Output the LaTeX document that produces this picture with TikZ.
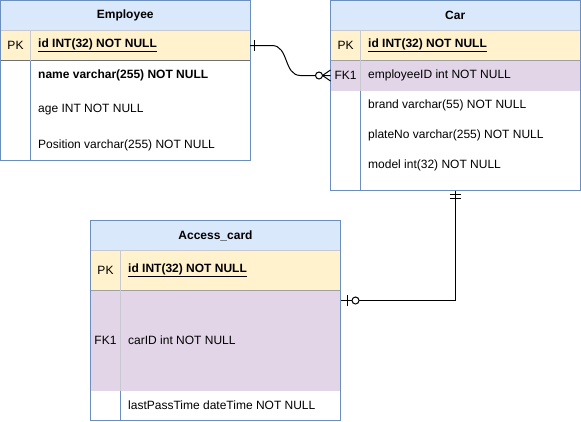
\documentclass[tikz,border=0pt]{standalone}
\usepackage{fontspec}
\setmainfont{Liberation Sans}
\usetikzlibrary{calc}
\definecolor{hdrfill}{HTML}{DAE8FC}
\definecolor{hdrline}{HTML}{6C8EBF}
\definecolor{pkfill}{HTML}{FFF2CC}
\definecolor{fkfill}{HTML}{E1D5E7}
\definecolor{sepdark}{HTML}{707070}
\definecolor{sepmid}{HTML}{A0A0A0}
\definecolor{seplight}{HTML}{C8C8D0}
\begin{document}
\begin{tikzpicture}[x=1pt,y=-1pt,
  every node/.style={font=\fontsize{12pt}{14pt}\selectfont},
  box/.style={inner sep=0pt, outer sep=0pt, anchor=north west},
  hdrbox/.style={box, fill=hdrfill, font=\fontsize{12pt}{14pt}\selectfont\bfseries},
  pkbox/.style={box, fill=pkfill},
  fkbox/.style={box, fill=fkfill},
  bodybox/.style={box, fill=white},
  keytxt/.style={inner sep=0pt, anchor=center},
  fieldtxt/.style={inner sep=0pt, anchor=west},
  pkfield/.style={fieldtxt, font=\fontsize{12pt}{14pt}\selectfont\bfseries},
  tblline/.style={draw=hdrline, line width=1pt},
  lightline/.style={draw=seplight, line width=1pt},
  conn/.style={draw=black, line width=1pt},
]
\useasboundingbox (0,0) rectangle (581,421);

% ---------------- Employee ----------------
\node[hdrbox, minimum width=249.5pt, minimum height=30pt] (eh) at (0.5,0.5) {Employee};
\node[pkbox, minimum width=249.5pt, minimum height=30pt] (epk) at (eh.south west) {};
\node[bodybox, minimum width=249.5pt, minimum height=100pt] (eb) at (epk.south west) {};
\node[keytxt] (epkk) at ($(epk.west)+(15,0)$) {PK};
\node[pkfield] (epkf) at ($(epk.west)+(37.5,0)$) {\underline{id INT(32) NOT NULL}};
\node[pkfield] (ename) at (38,75) {name varchar(255) NOT NULL};
\node[fieldtxt] (eage) at (38,110) {age INT NOT NULL};
\node[fieldtxt] (epos) at (38,145) {Position varchar(255) NOT NULL};
\draw[lightline] (eh.south west) -- (eh.south east);
\draw[draw=sepdark, line width=1pt] (epk.south west) -- (epk.south east);
\draw[lightline] ($(epk.north west)+(30,0)$) -- ($(epk.south west)+(30,0)$);
\draw[tblline] ($(eb.north west)+(30,0)$) -- ($(eb.south west)+(30,0)$);
\draw[tblline] (eh.north west) rectangle (eb.south east);

% ---------------- Car ----------------
\node[hdrbox, minimum width=249.5pt, minimum height=30pt] (ch) at (330.5,0.5) {Car};
\node[pkbox, minimum width=249.5pt, minimum height=30pt] (cpk) at (ch.south west) {};
\node[fkbox, minimum width=249.5pt, minimum height=30pt] (cfk) at (cpk.south west) {};
\node[bodybox, minimum width=249.5pt, minimum height=100pt] (cb) at (cfk.south west) {};
\node[keytxt] (cpkk) at ($(cpk.west)+(15,0)$) {PK};
\node[pkfield] (cpkf) at ($(cpk.west)+(37.5,0)$) {\underline{id INT(32) NOT NULL}};
\node[keytxt] (cfkk) at ($(cfk.west)+(15,0)$) {FK1};
\node[fieldtxt] (cfkf) at ($(cfk.west)+(37.5,0)$) {employeeID int NOT NULL};
\node[fieldtxt] (cbrand) at (368,105) {brand varchar(55) NOT NULL};
\node[fieldtxt] (cplate) at (368,135) {plateNo varchar(255) NOT NULL};
\node[fieldtxt] (cmodel) at (368,165) {model int(32) NOT NULL};
\draw[lightline] (ch.south west) -- (ch.south east);
\draw[draw=sepmid, line width=1pt] (cpk.south west) -- (cpk.south east);
\draw[lightline] ($(cpk.north west)+(30,0)$) -- ($(cfk.south west)+(30,0)$);
\draw[tblline] ($(cb.north west)+(30,0)$) -- ($(cb.south west)+(30,0)$);
\draw[tblline] (ch.north west) rectangle (cb.south east);

% ---------------- Access_card ----------------
\node[hdrbox, minimum width=250pt, minimum height=30pt] (ah) at (90.5,220.5) {Access\_card};
\node[pkbox, minimum width=250pt, minimum height=40pt] (apk) at (ah.south west) {};
\node[fkbox, minimum width=250pt, minimum height=100pt] (afk) at (apk.south west) {};
\node[bodybox, minimum width=250pt, minimum height=30pt] (ab) at (afk.south west) {};
\node[keytxt] (apkk) at ($(apk.west)+(15,0)$) {PK};
\node[pkfield] (apkf) at ($(apk.west)+(37.5,0)$) {\underline{id INT(32) NOT NULL}};
\node[keytxt] (afkk) at ($(afk.west)+(15,0)$) {FK1};
\node[fieldtxt] (afkf) at ($(afk.west)+(37.5,0)$) {carID int NOT NULL};
\node[fieldtxt] (alast) at ($(ab.west)+(37.5,0)$) {lastPassTime dateTime NOT NULL};
\draw[lightline] (ah.south west) -- (ah.south east);
\draw[draw=sepmid, line width=1pt] (apk.south west) -- (apk.south east);
\draw[lightline] ($(apk.north west)+(30,0)$) -- ($(afk.south west)+(30,0)$);
\draw[tblline] ($(ab.north west)+(30,0)$) -- ($(ab.south west)+(30,0)$);
\draw[tblline] (ah.north west) rectangle (ab.south east);

% ---------------- Connectors ----------------
% Employee (one) -> Car (zero or many)
\draw[conn] (epk.east) -- ++(22,0) .. controls +(17,0) and +(-17,0) .. ($(cfk.west)+(-30,0)$) -- (cfk.west);
\draw[conn] ($(epk.east)+(4,-5.5)$) -- ++(0,11);
\draw[conn] ($(cfk.west)+(-8,0)$) -- ($(cfk.west)+(0,-5.5)$);
\draw[conn] ($(cfk.west)+(-8,0)$) -- ($(cfk.west)+(0,5.5)$);
\draw[conn, fill=white] ($(cfk.west)+(-11.5,0)$) circle (3.5);

% Car (exactly one) -> Access_card (zero or one)
\coordinate (aend) at ($(afk.north east)+(0,10)$);
\draw[conn] (cb.south) -- (cb.south |- aend) -- (aend);
\draw[conn] ($(cb.south)+(-5.5,4)$) -- ++(11,0);
\draw[conn] ($(cb.south)+(-5.5,8)$) -- ++(11,0);
\draw[conn] ($(aend)+(7,-5.5)$) -- ++(0,11);
\draw[conn, fill=white] ($(aend)+(15,0)$) circle (3.5);
\end{tikzpicture}
\end{document}
